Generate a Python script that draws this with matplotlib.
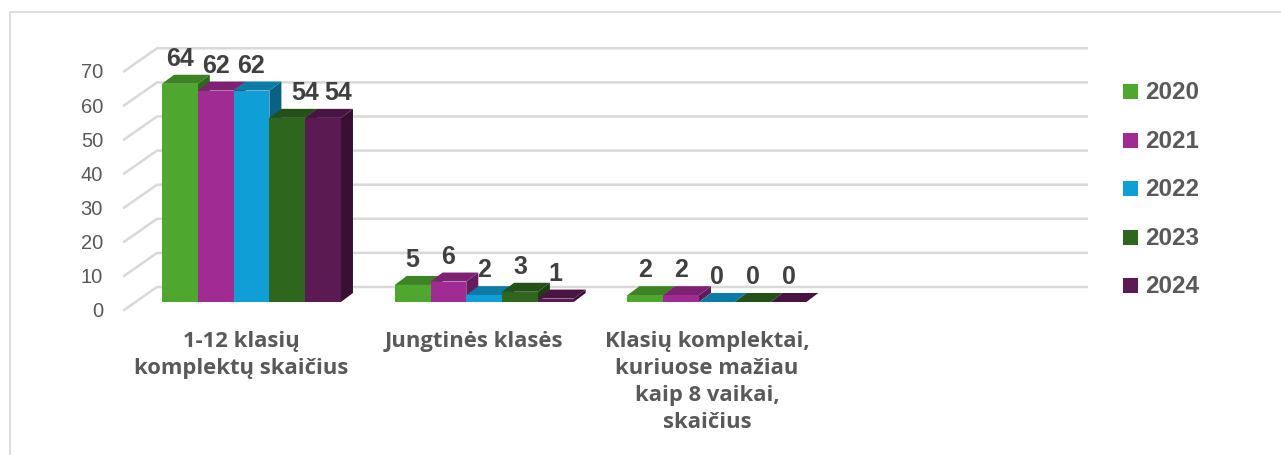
import matplotlib
matplotlib.use("Agg")
import matplotlib.pyplot as plt
from matplotlib.patches import Polygon, Rectangle
from matplotlib.colors import to_rgb

# ---- data ----
categories = [
    "1-12 klasių\nkomplektų skaičius",
    "Jungtinės klasės",
    "Klasių komplektai,\nkuriuose mažiau\nkaip 8 vaikai,\nskaičius",
]
years = ["2020", "2021", "2022", "2023", "2024"]
values = {
    "2020": [64, 5, 2],
    "2021": [62, 6, 2],
    "2022": [62, 2, 0],
    "2023": [54, 3, 0],
    "2024": [54, 1, 0],
}
y_ticks = [0, 10, 20, 30, 40, 50, 60, 70]
colors = ["#4EA72E", "#A02B93", "#0F9ED5", "#2F661E", "#5C1A53"]

W, H = 1281, 456
fig = plt.figure(figsize=(W / 100, H / 100), dpi=100)
ax = fig.add_axes([0, 0, 1, 1])

# scales: 1 category = 232.7 px, 1 value unit = 3.41 px
px_cat = 232.7
px_val = 3.41
x0_px, y0_px = 251.5, 303  # category 0 centre / value 0 on bar front plane
ax.set_xlim(-x0_px / px_cat, (W - x0_px) / px_cat)
ax.set_ylim(-(H - y0_px) / px_val, y0_px / px_val)
ax.axis("off")

n = len(years)
bw = 0.1538            # bar width (category units)
ddx = 12 / px_cat      # depth offset
ddy = 9 / px_val
grid_c = "#D9D9D9"
txt_c = "#595959"
lab_c = "#404040"


def shade(c, f):
    r, g, b = to_rgb(c)
    return (r * f, g * f, b * f)


# ---- walls / gridlines ----
fx, bx, ex = -0.552, -0.406, 3.595
f_off, b_off = -8.7 / px_val, 15 / px_val
for v in y_ticks:
    ax.plot([fx, bx, ex], [v + f_off, v + b_off, v + b_off],
            color=grid_c, lw=1.8, solid_capstyle="butt", zorder=1)
    ax.text(-0.638, v + f_off, str(v), ha="right", va="center",
            fontsize=14.5, color=txt_c, family="Liberation Sans")

# ---- bars ----
nudge = {(0, 3): 13, (0, 4): 11}
for i in range(len(categories)):
    for j, yr in enumerate(years):
        v = values[yr][i]
        c = colors[j]
        x1 = i - n * bw / 2 + j * bw
        x2 = x1 + bw
        front = Rectangle((x1, 0), bw, v, facecolor=c, edgecolor="none", zorder=3)
        top = Polygon([(x1, v), (x2, v), (x2 + ddx, v + ddy), (x1 + ddx, v + ddy)],
                      closed=True, facecolor=shade(c, 0.78), edgecolor="none", zorder=3)
        side = Polygon([(x2, 0), (x2 + ddx, ddy), (x2 + ddx, v + ddy), (x2, v)],
                       closed=True, facecolor=shade(c, 0.62), edgecolor="none", zorder=3)
        for p in (side, top, front):
            ax.add_patch(p)
        ax.annotate(str(v), (x1 + bw / 2, v), xytext=(nudge.get((i, j), 0), 13.5),
                    textcoords="offset points", ha="center", va="baseline",
                    fontsize=18, fontweight="bold", color=lab_c,
                    family="Liberation Sans", zorder=5)

# ---- category labels ----
for i, cat in enumerate(categories):
    ax.text(i - 10 / px_cat, -(331 - y0_px) / px_val, cat, ha="center", va="top",
            fontsize=15.8, fontweight="bold", color=txt_c, family="Open Sans",
            linespacing=1.37)

# ---- legend ----
for k, yr in enumerate(years):
    yc = 92.7 + k * 48.5
    fig.add_artist(Rectangle((1123 / W, 1 - (yc + 7.5) / H), 15 / W, 15 / H,
                             facecolor=colors[k], edgecolor="none",
                             transform=fig.transFigure))
    fig.text(1145 / W, 1 - yc / H, yr, ha="left", va="center", fontsize=17.5,
             fontweight="bold", color=txt_c, family="Liberation Sans")

# ---- chart border ----
fig.add_artist(Rectangle((9.5 / W, -0.01), 1.02, 1 - 12.5 / H + 0.01, fill=False,
                         edgecolor=grid_c, lw=1.2, transform=fig.transFigure))

fig.savefig("out.png", dpi=100)
